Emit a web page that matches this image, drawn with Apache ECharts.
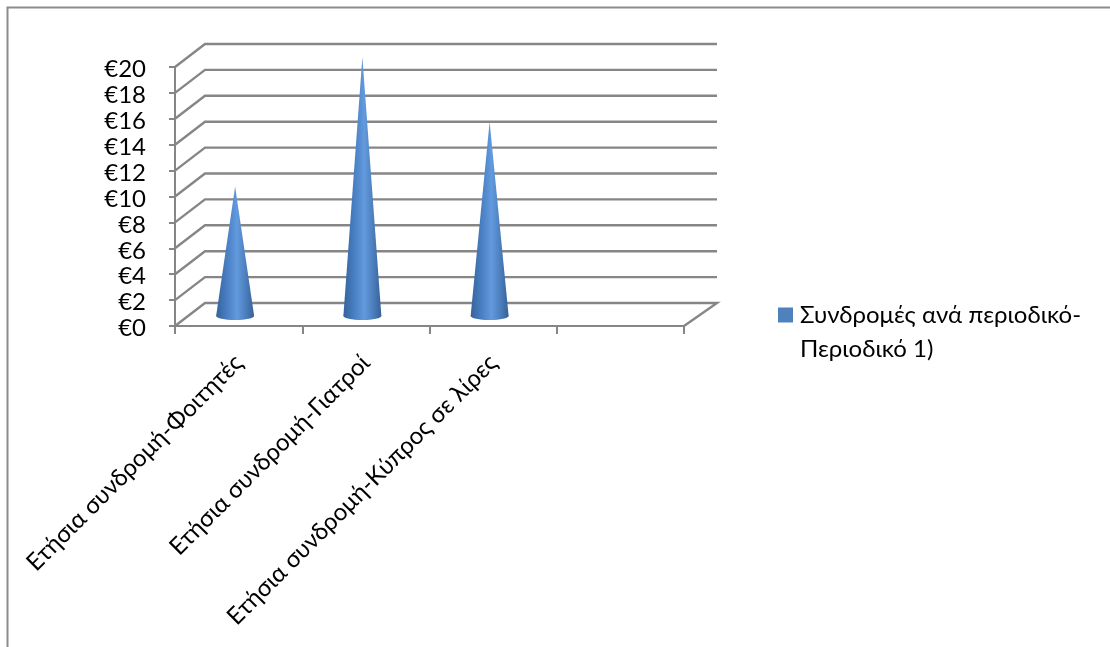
<!DOCTYPE html>
<html>
<head>
<meta charset="utf-8">
<style>html,body{margin:0;padding:0;background:#fff}#c{width:1110px;height:647px}</style>
<script src="https://cdn.jsdelivr.net/npm/echarts@6/dist/echarts.min.js"></script>
</head>
<body>
<div id="c"></div>
<script>
var categories = ['Ετήσια συνδρομή-Φοιτητές','Ετήσια συνδρομή-Γιατροί','Ετήσια συνδρομή-Κύπρος σε λίρες',''];
var values = [10, 20, 15, null];
var wallTicks = [0,2,4,6,8,10,12,14,16,18,20];
var seriesName = 'Συνδρομές ανά περιοδικό-\nΠεριοδικό 1)';
var FONT = 'Lato, "Open Sans", sans-serif';
var GRID_COLOR = '#868686';
var DEPTH_L = 30, DEPTH_R = 33, DEPTH_Y = 23;

var chart = echarts.init(document.getElementById('c'), null, {renderer:'canvas'});
var coneFill = {type:'linear',x:0,y:0,x2:1,y2:0,colorStops:[
  {offset:0,color:'#35639c'},{offset:0.3,color:'#4a80c4'},{offset:0.55,color:'#629add'},
  {offset:0.8,color:'#4a7cba'},{offset:1,color:'#356296'}]};

chart.setOption({
  animation:false,
  textStyle:{fontFamily:FONT},
  grid:{left:175,top:67,width:509,height:259,containLabel:false},
  xAxis:{type:'category',data:categories,boundaryGap:true,
    axisLine:{show:true,lineStyle:{color:GRID_COLOR,width:2}},
    axisTick:{show:true,length:8,lineStyle:{color:GRID_COLOR,width:2}},
    splitLine:{show:false},
    axisLabel:{interval:0,rotate:45,fontSize:24,color:'#000',margin:33,fontFamily:FONT}},
  yAxis:{type:'value',min:0,max:20,interval:2,
    axisLine:{show:true,lineStyle:{color:GRID_COLOR,width:2}},
    axisTick:{show:true,length:6,lineStyle:{color:GRID_COLOR,width:2}},
    splitLine:{show:false},
    axisLabel:{formatter:'€{value}',fontSize:24,color:'#000',margin:29,verticalAlign:'top',lineHeight:5,fontFamily:FONT}},
  legend:{show:true,left:778,top:264,padding:0,orient:'vertical',selectedMode:false,itemWidth:15,itemHeight:15,itemGap:0,
    data:[{name:seriesName,icon:'rect'}],
    formatter:function(n){return ' \n'+n;},
    textStyle:{fontSize:24,color:'#000',lineHeight:34,padding:[0,0,0,2],fontFamily:FONT}},
  graphic:[
    {type:'polyline',silent:true,shape:{points:[[7.5,647],[7.5,7.5],[1110,7.5]]},style:{stroke:'#8c8c8c',lineWidth:2,fill:null}}
  ],
  series:[
    {type:'custom',name:'walls',silent:true,z:1,data:wallTicks.map(function(v){return [v];}),encode:{y:0},
     renderItem:function(p,api){
       var cs=p.coordSys, v=api.value(0), y=api.coord([0,v])[1];
       var pts=[[cs.x,y],[cs.x+DEPTH_L,y-DEPTH_Y],[cs.x+cs.width+DEPTH_R,y-DEPTH_Y]];
       if(v===0) pts.push([cs.x+cs.width,y]);
       return {type:'polyline',shape:{points:pts},style:{stroke:GRID_COLOR,lineWidth:2.4,fill:null}};
     }},
    {type:'custom',name:seriesName,silent:true,z:3,itemStyle:{color:'#4f81bd'},
     data:values.map(function(v,i){return [i,v];}),encode:{x:0,y:1},
     renderItem:function(p,api){
       if(api.value(1)==null||isNaN(api.value(1))) return null;
       var tip=api.coord([api.value(0),api.value(1)]), base=api.coord([api.value(0),0]);
       var cx=tip[0]-3.5, by=base[1]-10, ty=tip[1]-10, hw=19;
       return {type:'group',children:[
         {type:'ellipse',shape:{cx:cx,cy:by,rx:hw,ry:4},style:{fill:coneFill}},
         {type:'polygon',shape:{points:[[cx-hw,by],[cx+hw,by],[cx,ty]]},style:{fill:coneFill}}
       ]};
     }}
  ]
});
</script>
</body>
</html>
